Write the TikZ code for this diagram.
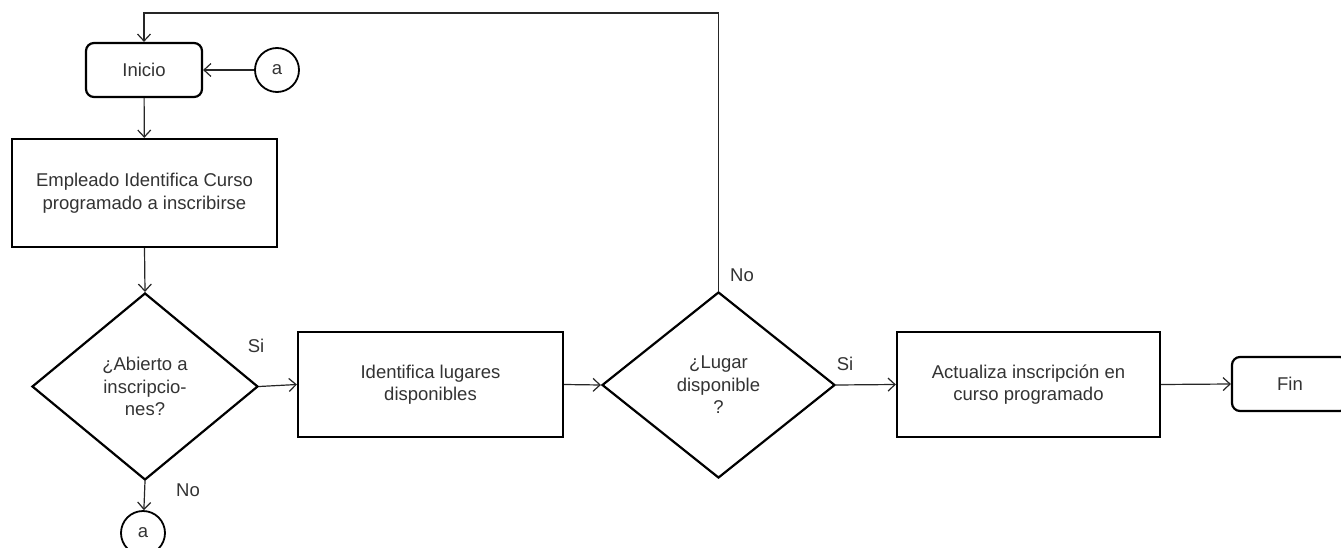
\documentclass[tikz,border=0pt]{standalone}
\usepackage{fontspec}
\setmainfont{Liberation Sans}
\usetikzlibrary{shapes.geometric,arrows.meta}
\tikzset{
  boxnode/.style={draw=black, line width=2.2pt, rectangle, align=center, inner sep=0pt, text=black!80},
  termnode/.style={boxnode, rounded corners=8pt},
  decnode/.style={draw=black, line width=2.2pt, diamond, align=center, inner sep=0pt, text=black!80},
  connnode/.style={draw=black, line width=1.8pt, circle, inner sep=0pt, minimum size=44pt, text=black!80},
  conn/.style={draw=black!85, line width=1.2pt, -{Straight Barb[length=7pt,width=13pt,line width=1.2pt]}},
  lbl/.style={text=black!80, inner sep=0pt}
}
\begin{document}
\begin{tikzpicture}[x=1pt,y=-1pt,font=\fontsize{18.5pt}{22.5pt}\selectfont]
\clip (0,0) rectangle (1341,548);
\fill[white] (0,0) rectangle (1341,548);
\node[termnode, minimum width=116pt, minimum height=54pt] (inicio) at (144,70) {Inicio};
\node[connnode] (atop) at (277,70) {a};
\node[boxnode, minimum width=265pt, minimum height=108pt] (empleado) at (144.5,193) {Empleado Identifica Curso\\programado a inscribirse};
\node[decnode, minimum width=226pt, minimum height=187pt] (abierto) at (145,386.5) {¿Abierto a\\inscripcio-\\nes?};
\node[connnode] (abot) at (143,533) {a};
\node[boxnode, minimum width=265pt, minimum height=105pt] (identifica) at (430.5,384.5) {Identifica lugares\\disponibles};
\node[decnode, minimum width=233pt, minimum height=186pt] (lugar) at (718.5,385) {¿Lugar\\disponible\\?};
\node[boxnode, minimum width=263pt, minimum height=105pt] (actualiza) at (1028.5,384.5) {Actualiza inscripción en\\curso programado};
\node[termnode, minimum width=116pt, minimum height=54pt] (fin) at (1290,384) {Fin};
\coordinate (loopR) at (718.5,13);
\coordinate (loopL) at (144,13);

\draw[conn] (atop) -- (inicio);
\draw[conn] (inicio) -- (empleado);
\draw[conn] (empleado.south) -- (abierto.north);
\draw[conn] (abierto.east) -- (identifica.west);
\draw[conn] (abierto.south) -- (abot);
\draw[conn] (identifica.east) -- (lugar.west);
\draw[conn] (lugar.east) -- (actualiza.west);
\draw[conn] (actualiza.east) -- (fin.west);
\draw[conn] (lugar.north) -- (loopR) -- (loopL) -- (inicio.north);

\node[lbl] (si1) at (256,346) {Si};
\node[lbl] (no1) at (188,490) {No};
\node[lbl] (si2) at (845,364) {Si};
\node[lbl] (no2) at (742,275) {No};
\end{tikzpicture}
\end{document}
